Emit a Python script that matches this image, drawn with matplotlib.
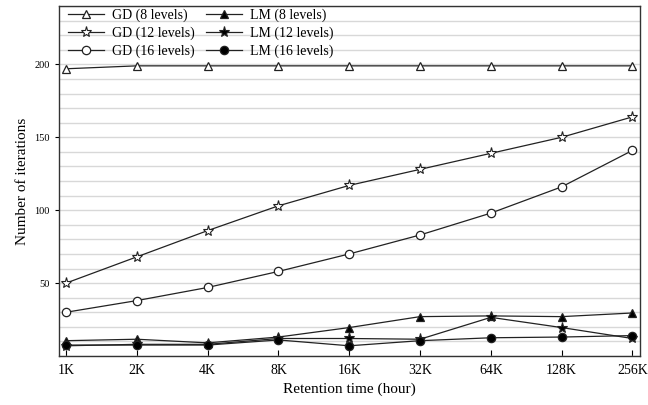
import matplotlib
matplotlib.use("Agg")
import matplotlib.pyplot as plt
from matplotlib.ticker import MultipleLocator

plt.rcParams["font.family"] = ["Liberation Serif", "DejaVu Serif"]

retention = ["1K", "2K", "4K", "8K", "16K", "32K", "64K", "128K", "256K"]

gd_8 = [197, 199, 199, 199, 199, 199, 199, 199, 199]
gd_12 = [50, 68, 86, 103, 117, 128, 139, 150, 164]
gd_16 = [30, 38, 47, 58, 70, 83, 98, 116, 141]
lm_8 = [10.5, 11.5, 9, 13, 19.5, 27, 27.5, 27, 29.5]
lm_12 = [7, 8, 8, 12, 12, 11.5, 26.5, 19.5, 12]
lm_16 = [7.5, 7.5, 7.5, 11, 7, 10.5, 12.5, 13, 14]

fig = plt.figure(figsize=(6.48, 4.05), dpi=100)
ax = fig.add_axes([0.091, 0.121, 0.897, 0.864])

x = list(range(len(retention)))
line_kw = dict(color="#222222", linewidth=0.9, markersize=6, markeredgewidth=0.9)
star_kw = dict(color="#222222", linewidth=0.9, markersize=8, markeredgewidth=0.8)

# legend fills column-first, so GD lines first then LM lines
ax.plot(x, gd_8, marker="^", markerfacecolor="white", label="GD (8 levels)", **line_kw)
ax.plot(x, gd_12, marker="*", markerfacecolor="white", label="GD (12 levels)", **star_kw)
ax.plot(x, gd_16, marker="o", markerfacecolor="white", label="GD (16 levels)", **line_kw)
ax.plot(x, lm_8, marker="^", markerfacecolor="black", label="LM (8 levels)", **line_kw)
ax.plot(x, lm_12, marker="*", markerfacecolor="black", label="LM (12 levels)", **star_kw)
ax.plot(x, lm_16, marker="o", markerfacecolor="black", label="LM (16 levels)", **line_kw)

ax.set_xlim(-0.1, 8.11)
ax.set_ylim(0, 240)
ax.set_xticks(x)
ax.set_xticklabels(retention, fontsize=10)
ax.yaxis.set_major_locator(MultipleLocator(50))
ax.yaxis.set_minor_locator(MultipleLocator(10))
ax.set_yticks([50, 100, 150, 200])
ax.tick_params(axis="y", labelsize=7.5, direction="out", length=3)
ax.tick_params(axis="y", which="minor", length=0)
ax.tick_params(axis="x", direction="in", length=4, pad=6)
ax.grid(True, axis="y", which="both", color="#d8d8d8", linewidth=1.0)
ax.set_axisbelow(True)
for s in ax.spines.values():
    s.set_linewidth(1.0)
    s.set_color("#333333")

ax.set_xlabel("Retention time (hour)", fontsize=11)
ax.set_ylabel("Number of iterations", fontsize=11)

ax.legend(loc="upper left", bbox_to_anchor=(0.01, 1.0), ncol=2, frameon=False,
          fontsize=10, handlelength=2.6, columnspacing=0.8, labelspacing=0.3,
          borderaxespad=0.0, borderpad=0.2, handletextpad=0.6)

fig.savefig("out.png", dpi=100, facecolor="white")
